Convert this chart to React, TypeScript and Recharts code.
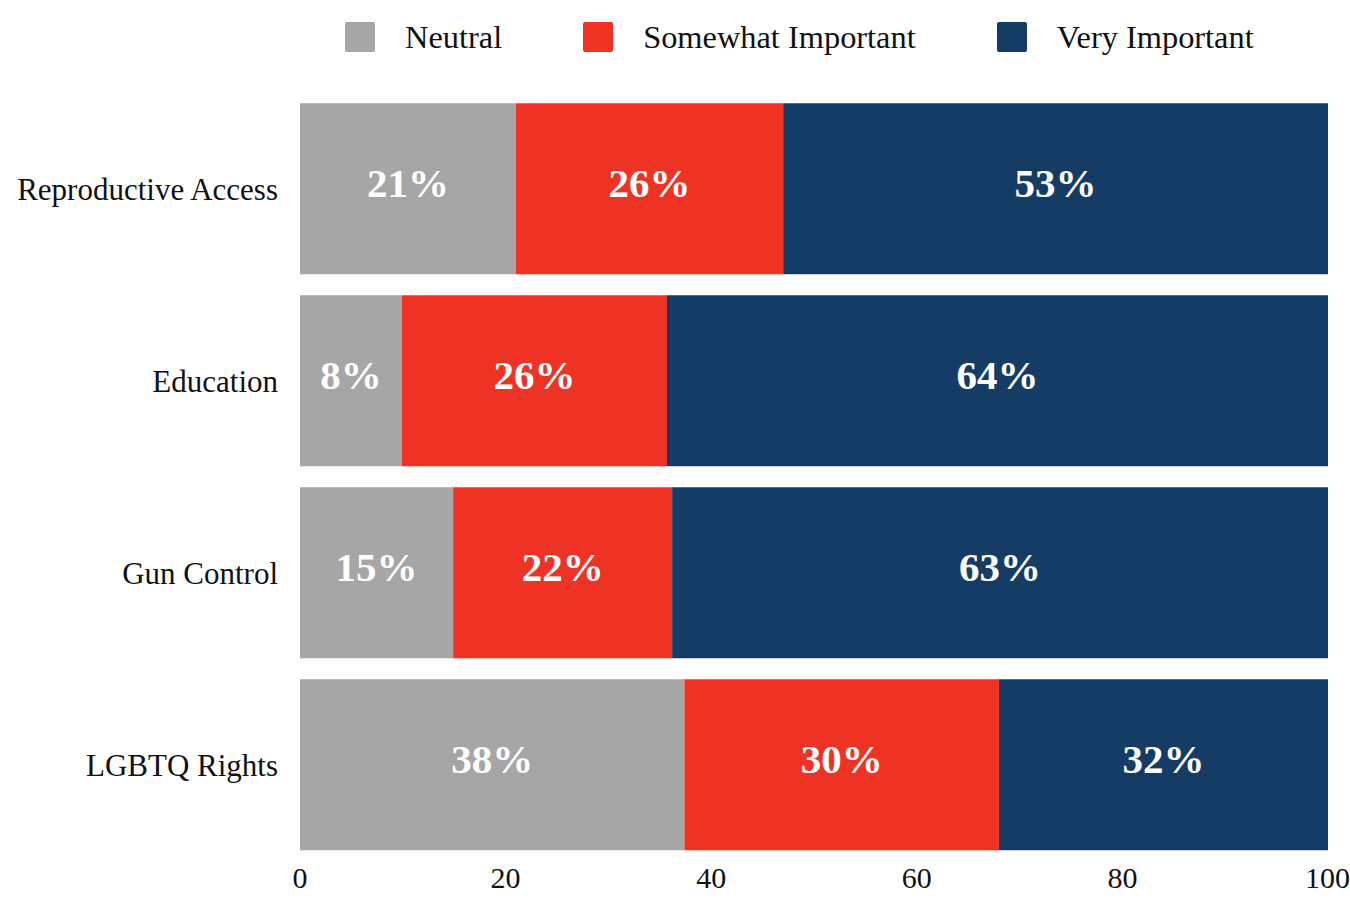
import React from "react";
import { BarChart, Bar, XAxis, YAxis, LabelList } from "recharts";

const categories = ["Reproductive Access", "Education", "Gun Control", "LGBTQ Rights"];
const neutral = [21, 9.9, 14.9, 37.4];
const somewhat = [26, 25.8, 21.3, 30.6];
const very = [53, 64.3, 63.8, 32];
const neutralLabels = ["21%", "8%", "15%", "38%"];
const somewhatLabels = ["26%", "26%", "22%", "30%"];
const veryLabels = ["53%", "64%", "63%", "32%"];
const xTicks = [0, 20, 40, 60, 80, 100];

const series = [
  { key: "neutral", name: "Neutral", color: "#a6a6a6" },
  { key: "somewhat", name: "Somewhat Important", color: "#ee3325" },
  { key: "very", name: "Very Important", color: "#153c64" },
];

const data = categories.map((name, i) => ({
  name,
  neutral: neutral[i],
  somewhat: somewhat[i],
  very: very[i],
  neutralLabel: neutralLabels[i],
  somewhatLabel: somewhatLabels[i],
  veryLabel: veryLabels[i],
}));

const FONT = "'Liberation Serif', 'Times New Roman', serif";

const labelStyle = {
  fill: "#ffffff",
  fontSize: 41,
  fontWeight: 700,
  fontFamily: FONT,
};

const Legend = () => (
  <div
    style={{
      position: "absolute",
      top: 22,
      left: 345,
      display: "flex",
      alignItems: "center",
      fontFamily: FONT,
      fontSize: 32.4,
      color: "#111",
    }}
  >
    {series.map((s, i) => (
      <div
        key={s.key}
        style={{ display: "flex", alignItems: "center", marginRight: i < series.length - 1 ? 81 : 0 }}
      >
        <span
          style={{
            display: "inline-block",
            width: 30,
            height: 30,
            borderRadius: 2,
            background: s.color,
            marginRight: 30,
          }}
        />
        <span style={{ lineHeight: "30px" }}>{s.name}</span>
      </div>
    ))}
  </div>
);

export default function App() {
  return (
    <div style={{ position: "absolute", top: 0, left: 0, width: 1350, height: 901, background: "#fff" }}>
      <Legend />
      <BarChart
        width={1350}
        height={901}
        data={data}
        layout="vertical"
        margin={{ top: 93, right: 22, left: 0, bottom: 0 }}
        barCategoryGap="5.4%"
      >
        <XAxis
          type="number"
          domain={[0, 100]}
          ticks={xTicks}
          axisLine={false}
          tickLine={false}
          tickSize={0}
          tickMargin={6}
          height={40}
          tick={{ fill: "#111", fontSize: 30, fontFamily: FONT }}
        />
        <YAxis
          type="category"
          dataKey="name"
          width={300}
          axisLine={false}
          tickLine={false}
          tickSize={0}
          tickMargin={22}
          tick={{ fill: "#111", fontSize: 31, fontFamily: FONT }}
        />
        {series.map((s) => (
          <Bar key={s.key} dataKey={s.key} name={s.name} stackId="a" fill={s.color} isAnimationActive={false}>
            <LabelList dataKey={s.key + "Label"} position="center" dy={-6} style={labelStyle} />
          </Bar>
        ))}
      </BarChart>
    </div>
  );
}
